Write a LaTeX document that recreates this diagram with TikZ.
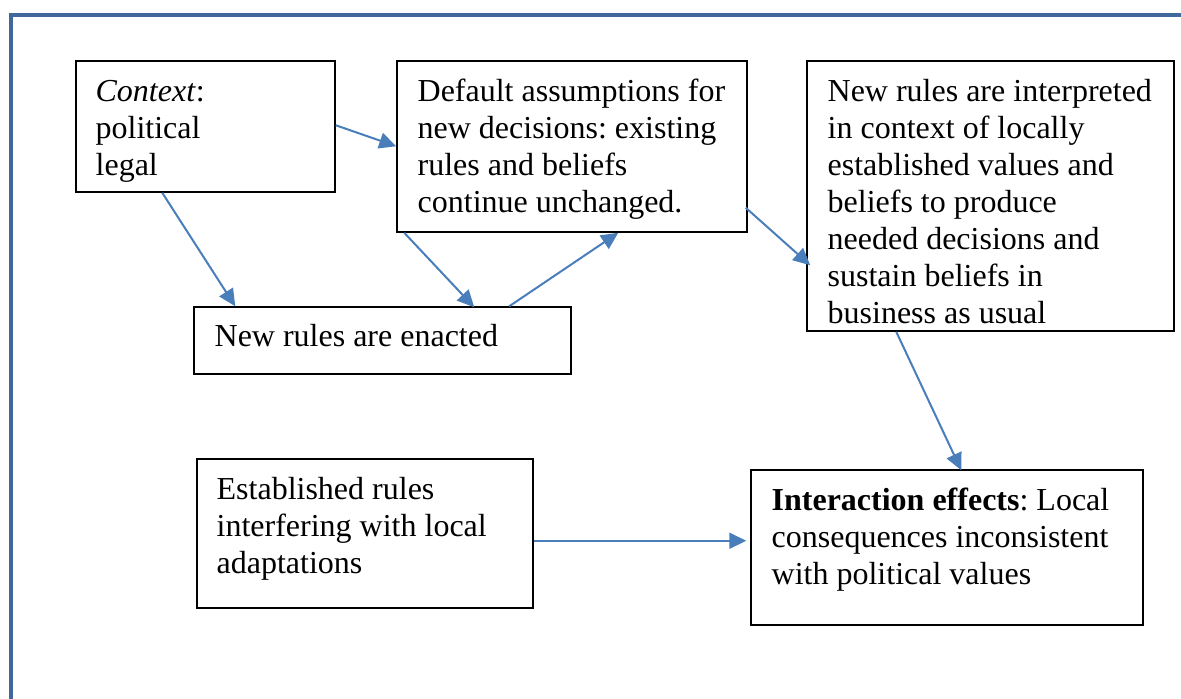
\documentclass[tikz,border=0pt]{standalone}
\usepackage{fontspec}
\setmainfont{Liberation Serif}
\usetikzlibrary{arrows.meta,fit,calc}
\definecolor{framecol}{RGB}{65,104,155}
\definecolor{arrcol}{RGB}{74,126,187}
\newcommand\mystrut{\rule{0pt}{13pt}}
\frenchspacing
\tikzset{
  boxnode/.style={draw=black,line width=0.75pt,inner sep=0pt,rectangle},
  txtnode/.style={inner sep=0pt,anchor=north west,align=left,font=\fontsize{16}{18.5}\selectfont\frenchspacing},
  conn/.style={draw=arrcol,line width=1pt,-{Triangle[length=8.5pt,width=8pt]}}
}
\begin{document}
\begin{tikzpicture}[x=0.5pt,y=-0.5pt]
\useasboundingbox (0,0) rectangle (1181,698);
% page frame
\draw[framecol,line width=2.3pt] (11,720) -- (11,15) -- (1200,15);
% boxes
\node[boxnode,fit={(76,61)(335,192)}] (ctx) {};
\node[boxnode,fit={(397,61)(747,232)}] (dflt) {};
\node[boxnode,fit={(807,61)(1174,331)}] (interp) {};
\node[boxnode,fit={(194,307)(571,374)}] (enact) {};
\node[boxnode,fit={(197,459)(533,608)}] (estab) {};
\node[boxnode,fit={(751,470)(1143,625)}] (inter) {};
% texts
\node[txtnode] (ctxt) at ($(ctx.north west)+(20,15)$) {\mystrut\textit{Context}:\\political\\legal};
\node[txtnode] (dfltt) at ($(dflt.north west)+(21,15)$) {\mystrut Default assumptions for\\new decisions: existing\\rules and beliefs\\continue unchanged.};
\node[txtnode] (interpt) at ($(interp.north west)+(21,15)$) {\mystrut New rules are interpreted\\in context of locally\\established values and\\beliefs to produce\\needed decisions and\\sustain beliefs in\\business as usual};
\node[txtnode] (enactt) at ($(enact.north west)+(21,14)$) {\mystrut New rules are enacted};
\node[txtnode] (estabt) at ($(estab.north west)+(20,15)$) {\mystrut Established rules\\interfering with local\\adaptations};
\node[txtnode] (intert) at ($(inter.north west)+(21,15)$) {\mystrut\textbf{Interaction effects}: Local\\consequences inconsistent\\with political values};
% connectors
\draw[conn] ($(ctx.north east)+(0,65)$) -- ($(dflt.north west)+(0,86)$);
\draw[conn] ($(ctx.south west)+(87,0)$) -- ($(enact.north west)+(42,0)$);
\draw[conn] ($(dflt.south west)+(8,0)$) -- ($(enact.north west)+(281,1)$);
\draw[conn] ($(enact.north west)+(316,0)$) -- ($(dflt.south west)+(222,0)$);
\draw[conn] ($(dflt.south east)+(-2,-25)$) -- ($(interp.north west)+(4,205)$);
\draw[conn] ($(interp.south west)+(90,0)$) -- ($(inter.north west)+(211,1)$);
\draw[conn] ($(estab.south east)+(0,-68)$) -- ($(inter.south west)+(-4,-85)$);
\end{tikzpicture}
\end{document}
